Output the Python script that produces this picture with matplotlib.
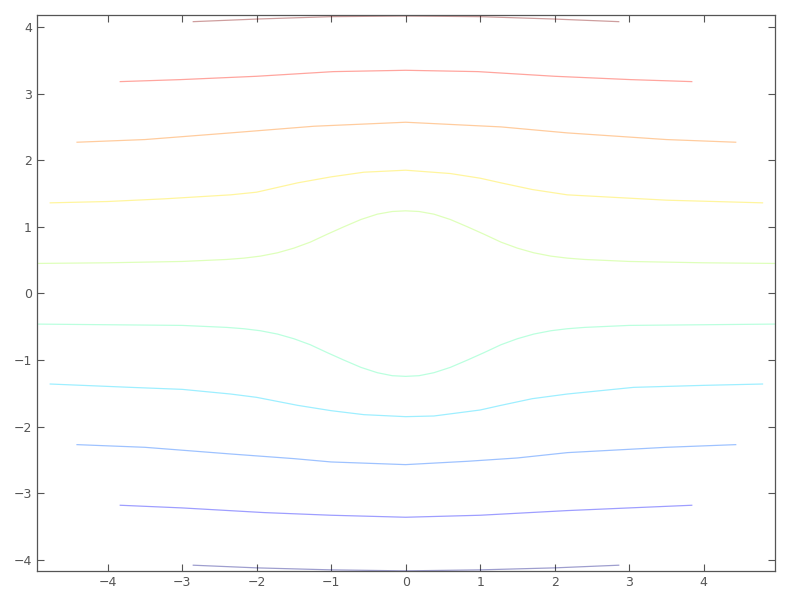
import numpy as np
import matplotlib
matplotlib.use("Agg")
import matplotlib.pyplot as plt

# contour lines, bottom to top (x, y)
x_l1 = [-2.85, -2.0, -1.0, 0.0, 1.0, 2.0, 2.86]
y_l1 = [-4.08, -4.12, -4.15, -4.165, -4.15, -4.12, -4.08]

x_l2 = [-3.83, -3.0, -1.9, -1.0, 0.0, 1.0, 2.17, 3.0, 3.84]
y_l2 = [-3.18, -3.22, -3.29, -3.33, -3.36, -3.33, -3.26, -3.22, -3.18]

x_l3 = [-4.41, -3.5, -2.35, -1.5, -1.0, 0.0, 0.83, 1.5, 2.17, 3.5, 4.43]
y_l3 = [-2.27, -2.31, -2.41, -2.48, -2.53, -2.57, -2.52, -2.47, -2.39, -2.31, -2.27]

x_l4 = [-4.77, -3.69, -3.0, -2.35, -2.0, -1.45, -1.0, -0.56, 0.0, 0.38, 1.0, 1.28, 1.7, 2.17, 3.06, 4.0, 4.79]
y_l4 = [-1.36, -1.41, -1.44, -1.51, -1.56, -1.68, -1.76, -1.82, -1.85, -1.84, -1.75, -1.68, -1.58, -1.51, -1.41, -1.38, -1.36]

x_l5 = [-4.98, -4.0, -3.0, -2.4, -2.17, -1.95, -1.72, -1.5, -1.28, -1.05, -0.83, -0.6, -0.38, -0.18, 0.0,
        0.18, 0.38, 0.6, 0.83, 1.05, 1.28, 1.5, 1.72, 1.95, 2.17, 2.4, 3.0, 4.0, 4.98]
y_l5 = [-0.46, -0.47, -0.48, -0.51, -0.53, -0.56, -0.61, -0.68, -0.77, -0.89, -1.0, -1.11, -1.19, -1.235, -1.245,
        -1.235, -1.19, -1.11, -1.0, -0.89, -0.77, -0.68, -0.61, -0.56, -0.53, -0.51, -0.48, -0.47, -0.46]

x_l6 = [-4.98, -4.0, -3.0, -2.4, -2.17, -1.95, -1.72, -1.5, -1.28, -1.05, -0.83, -0.6, -0.38, -0.18, 0.0,
        0.18, 0.38, 0.6, 0.83, 1.05, 1.28, 1.5, 1.72, 1.95, 2.17, 2.4, 3.0, 4.0, 4.98]
y_l6 = [0.45, 0.46, 0.48, 0.51, 0.53, 0.56, 0.61, 0.68, 0.77, 0.89, 1.0, 1.11, 1.19, 1.23, 1.24,
        1.23, 1.19, 1.11, 1.0, 0.89, 0.77, 0.68, 0.61, 0.56, 0.53, 0.51, 0.48, 0.46, 0.45]

x_l7 = [-4.77, -4.0, -3.24, -2.35, -2.0, -1.45, -1.0, -0.56, 0.0, 0.6, 1.0, 1.28, 1.7, 2.17, 3.5, 4.79]
y_l7 = [1.36, 1.38, 1.42, 1.48, 1.52, 1.66, 1.75, 1.82, 1.85, 1.80, 1.73, 1.66, 1.56, 1.48, 1.40, 1.36]

x_l8 = [-4.41, -3.5, -2.35, -1.23, 0.0, 1.28, 2.17, 3.5, 4.43]
y_l8 = [2.27, 2.31, 2.41, 2.51, 2.57, 2.50, 2.41, 2.31, 2.27]

x_l9 = [-3.83, -3.02, -2.0, -0.97, 0.0, 0.97, 2.0, 3.02, 3.84]
y_l9 = [3.18, 3.21, 3.26, 3.33, 3.35, 3.33, 3.26, 3.21, 3.18]

x_l10 = [-2.85, -1.98, -1.0, 0.0, 1.0, 1.98, 2.86]
y_l10 = [4.08, 4.12, 4.155, 4.165, 4.155, 4.12, 4.08]

lines = [(x_l1, y_l1), (x_l2, y_l2), (x_l3, y_l3), (x_l4, y_l4), (x_l5, y_l5),
         (x_l6, y_l6), (x_l7, y_l7), (x_l8, y_l8), (x_l9, y_l9), (x_l10, y_l10)]

fig = plt.figure(figsize=(8, 6), dpi=100)
ax = fig.add_axes([0.046, 0.048, 0.923, 0.927])

colors = plt.cm.jet(np.linspace(0, 1, len(lines)))
for (xs, ys), c in zip(lines, colors):
    ax.plot(xs, ys, color=c, alpha=0.38, lw=0.9)

ax.set_xlim(-4.95, 4.96)
ax.set_ylim(-4.17, 4.18)
ax.set_xticks(range(-4, 5))
ax.set_yticks(range(-4, 5))

for s in ax.spines.values():
    s.set_color("#555555")
    s.set_linewidth(0.9)
ax.tick_params(direction="in", top=True, right=True, length=5, width=0.8,
               color="#555555", labelcolor="#555555", labelsize=9)

fig.savefig("out.png", dpi=100)
